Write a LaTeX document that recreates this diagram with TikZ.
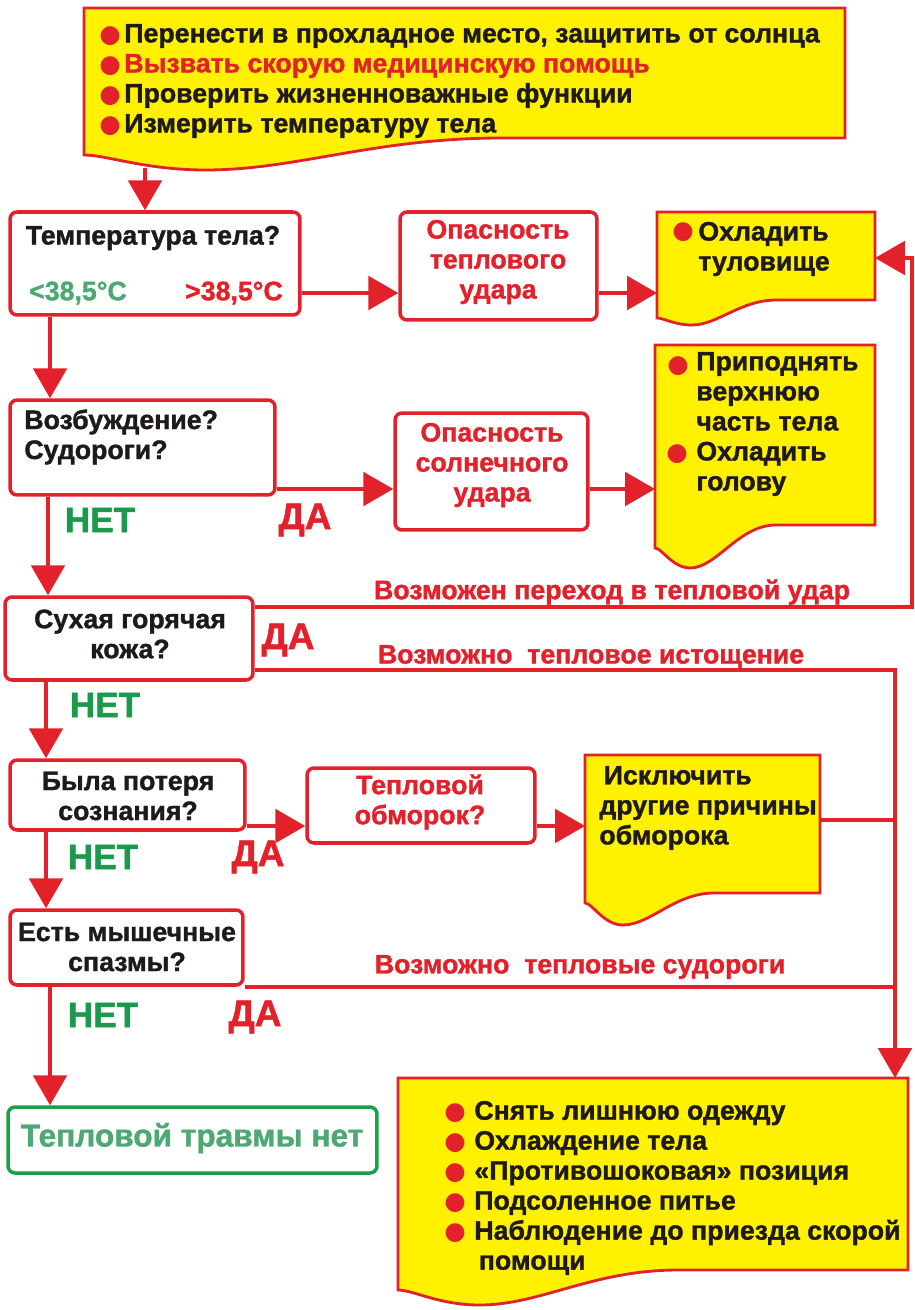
\documentclass[tikz,border=0pt]{standalone}
\usepackage{fontspec}
\setmainfont{Liberation Sans}[BoldFeatures={FakeBold=1.3}]
\newfontfamily\symf{DejaVu Sans}
\usetikzlibrary{arrows.meta}
\definecolor{bred}{HTML}{E3212B}
\definecolor{byel}{HTML}{FFF100}
\definecolor{bgrn}{HTML}{1B9A4B}
\definecolor{lgrn}{HTML}{4DA874}
\definecolor{boxgrn}{HTML}{17A148}
\definecolor{dtxt}{HTML}{1E1A1A}
\newcommand\fA{\fontsize{15.2}{17.07}\selectfont\bfseries}
\newcommand\bul{\textcolor{bred}{\symf\fontsize{14}{14}\selectfont ●}}
\newcommand\docpath[6]{% L T R B D Lb
 \path[docshape] (#1,#2) -- (#3,#2) -- (#3,#4) -- ({#1+0.55*(#3-#1)},#4)
  .. controls ({#1+0.38*(#3-#1)},#4) and ({#1+0.28*(#3-#1)},#5) .. ({#1+0.16*(#3-#1)},#5)
  .. controls ({#1+0.08*(#3-#1)},#5) and ({#1+0.03*(#3-#1)},#6) .. (#1,#6) -- cycle;}
\begin{document}
\begin{tikzpicture}[x=0.02cm,y=-0.02cm,
 box/.style={draw=bred,line width=2pt,rounded corners=4pt,fill=white,inner sep=0pt},
 docshape/.style={draw=bred,line width=1.6pt,fill=byel},
 conn/.style={draw=bred,line width=2.3pt},
 arr/.style={conn,-{Triangle[length=17pt,width=19pt]}},
 txt/.style={inner sep=0pt,font=\fA,text=dtxt,align=center},
 ltxt/.style={txt,align=left,anchor=west},
 rtxt/.style={txt,text=bred},
 yeslbl/.style={inner sep=0pt,text=bred,font=\fontsize{21}{21}\selectfont\bfseries},
 nolbl/.style={inner sep=0pt,text=bgrn,font=\fontsize{20}{20}\selectfont\bfseries},
 bulletnode/.style={inner sep=0pt}
]
\useasboundingbox[fill=white] (0,0) rectangle (914,1310);

% ---------- top box
\docpath{84}{8}{845}{138}{170}{155}
\node[ltxt] (toptext) at (124,81) {Перенести в прохладное место, защитить от солнца\\
\textcolor{bred}{Вызвать скорую медицинскую помощь}\\
Проверить жизненноважные функции\\
Измерить температуру тела};
\foreach \yy/\nn in {36/b1,66/b2,96/b3,126/b4}{\node[bulletnode] (\nn) at (110,\yy) {\bul};}
\coordinate (topb) at (145,168);

% ---------- temperature
\node[box,minimum width=5.8cm,minimum height=2.06cm] (temp) at (155,263.5) {};
\node[txt] (tq) at (153,238) {Температура тела?};
\node[txt,text=lgrn] (tlo) at (78,293) {<38,5°C};
\node[txt,text=bred] (thi) at (234,293) {>38,5°C};

\node[box,minimum width=3.94cm,minimum height=2.16cm] (heat) at (498.5,266) {};
\node[rtxt] (heatt) at (498,262) {Опасность\\теплового\\удара};

\docpath{657}{212}{875}{300}{325}{318}
\node[bulletnode] (b5) at (683,232) {\bul};
\node[ltxt] (d1t) at (698,249) {Охладить\\туловище};
\coordinate (d1w) at (657,293);
\coordinate (d1e) at (875,258);

% ---------- excitation
\node[box,minimum width=5.3cm,minimum height=1.9cm] (exc) at (142.5,447.5) {};
\node[ltxt] (exct) at (24,437) {Возбуждение?\\Судороги?};

\node[box,minimum width=3.86cm,minimum height=2.34cm] (sun) at (491.5,471.5) {};
\node[rtxt] (sunt) at (492,465) {Опасность\\солнечного\\удара};

\docpath{655}{345}{875}{525}{568}{548}
\node[bulletnode] (b6) at (678,366) {\bul};
\node[bulletnode] (b7) at (677,454) {\bul};
\node[ltxt] (d2t) at (696,424) {Приподнять\\верхнюю\\часть тела\\Охладить\\голову};
\coordinate (d2w) at (655,489);

% ---------- dry skin
\node[box,minimum width=4.96cm,minimum height=1.66cm] (dry) at (129,638.5) {};
\node[txt] (dryt) at (130,634) {Сухая горячая\\кожа?};

% ---------- loss of consciousness
\node[box,minimum width=4.7cm,minimum height=1.4cm] (lost) at (127.5,795) {};
\node[txt] (lostt) at (128,796) {Была потеря\\сознания?};

\node[box,minimum width=4.56cm,minimum height=1.5cm] (faint) at (421,805.5) {};
\node[rtxt] (faintt) at (420,802) {Тепловой\\обморок?};

\docpath{585}{755}{820}{893}{925}{903}
\node[ltxt] (d3t) at (599,808) {\,Исключить\\другие причины\\обморока};
\coordinate (d3w) at (585,826);
\coordinate (d3e) at (820,820);

% ---------- spasms
\node[box,minimum width=4.66cm,minimum height=1.5cm] (spasm) at (126.5,947.5) {};
\node[txt] (spasmt) at (127,947) {Есть мышечные\\спазмы?};

% ---------- no injury
\node[box,draw=boxgrn,minimum width=7.38cm,minimum height=1.32cm] (none) at (192.5,1140) {};
\node[txt,text=lgrn,font=\fontsize{18}{20}\selectfont\bfseries] (nonet) at (192,1138) {Тепловой травмы нет};

% ---------- bottom box
\docpath{398}{1078}{908}{1270}{1305}{1290}
\foreach \yy/\nn in {1113/c1,1143/c2,1173/c3,1203/c4,1233/c5}{\node[bulletnode] (\nn) at (455,\yy) {\bul};}
\node[ltxt] (d4t) at (474,1188) {Снять лишнюю одежду\\Охлаждение тела\\«Противошоковая» позиция\\Подсоленное питье\\Наблюдение до приезда скорой\\\,помощи};
\coordinate (d4n) at (895,1078);

% ---------- connectors
\draw[arr] (topb) -- (temp.north -| topb);
\draw[arr] (temp.east |- 0,293) -- (heat.west |- 0,293);
\draw[arr] (heat.east |- 0,293) -- (d1w);
\draw[arr] (temp.south -| 50,0) -- (exc.north -| 50,0);
\draw[arr] (exc.east |- 0,489) -- (sun.west |- 0,489);
\draw[arr] (sun.east |- 0,489) -- (d2w);
\draw[arr] (exc.south -| 48,0) -- (dry.north -| 48,0);
\draw[arr] (dry.east |- 0,607) -| (912,258) -- (d1e);
\draw[arr] (dry.east |- 0,670) -| (d4n);
\draw[arr] (dry.south -| 46,0) -- (lost.north -| 46,0);
\draw[arr] (lost.east |- 0,826) -- (faint.west |- 0,826);
\draw[arr] (faint.east |- 0,826) -- (d3w);
\draw[conn] (d3e) -- (895,820);
\draw[arr] (lost.south -| 46,0) -- (spasm.north -| 46,0);
\draw[conn] (spasm.east |- 0,987) -- (895,987);
\draw[arr] (spasm.south -| 50,0) -- (none.north -| 50,0);

% ---------- labels
\node[rtxt] (l1) at (612,592) {Возможен переход в тепловой удар};
\node[rtxt] (l2) at (591,657) {Возможно\ \ тепловое истощение};
\node[rtxt] (l3) at (580,967) {Возможно\ \ тепловые судороги};
\node[nolbl] (n1) at (100,520) {НЕТ};
\node[nolbl] (n2) at (105,705) {НЕТ};
\node[nolbl] (n3) at (103,857) {НЕТ};
\node[nolbl] (n4) at (103,1015) {НЕТ};
\node[yeslbl] (y1) at (305,520) {ДА};
\node[yeslbl] (y2) at (288,640) {ДА};
\node[yeslbl] (y3) at (258,857) {ДА};
\node[yeslbl] (y4) at (255,1017) {ДА};
\end{tikzpicture}
\end{document}
